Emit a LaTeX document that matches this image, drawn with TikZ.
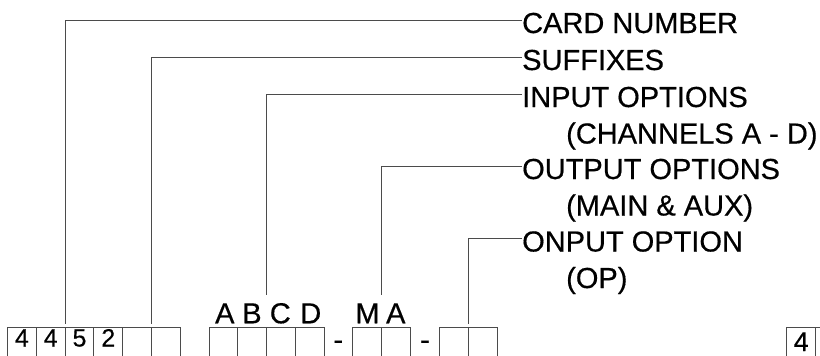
\documentclass[tikz,border=0pt]{standalone}
\usepackage{fontspec}
\setmainfont{Liberation Sans}[FakeBold=0.5]
\definecolor{ln}{RGB}{75,75,75}
\begin{document}
\begin{tikzpicture}[x=1pt,y=-1pt,
  lbl/.style={anchor=west,inner sep=0pt,text height=26pt,text depth=0pt,font=\fontsize{29}{31}\selectfont},
  ltr/.style={anchor=base,inner sep=0pt,font=\fontsize{29}{31}\selectfont},
  dig/.style={anchor=base,inner sep=0pt,font=\fontsize{25}{27}\selectfont},
  ldr/.style={draw=ln,line width=1pt},
  cellbox/.style={draw=ln,line width=0.9pt,anchor=north west,minimum width=28.8pt,minimum height=40pt,inner sep=0pt,outer sep=0pt}]
\useasboundingbox (0,0) rectangle (820,356);
\clip (0,0) rectangle (820,356);
% cells group 1
\node[cellbox] (a1) at (7.5,327.5) {};
\node[cellbox] (a2) at (36.3,327.5) {};
\node[cellbox] (a3) at (65.1,327.5) {};
\node[cellbox] (a4) at (93.9,327.5) {};
\node[cellbox] (a5) at (122.7,327.5) {};
\node[cellbox] (a6) at (151.5,327.5) {};
% group 2
\node[cellbox] (b1) at (209,327.5) {};
\node[cellbox] (b2) at (237.8,327.5) {};
\node[cellbox] (b3) at (266.6,327.5) {};
\node[cellbox] (b4) at (295.4,327.5) {};
% group 3
\node[cellbox] (m1) at (352.8,327.5) {};
\node[cellbox] (m2) at (381.6,327.5) {};
% group 4
\node[cellbox] (o1) at (439.6,327.5) {};
\node[cellbox] (o2) at (468.4,327.5) {};
% right partial
\node[cellbox] (r1) at (786.8,327.5) {};
\node[cellbox] (r2) at (815.6,327.5) {};
% digits
\node[dig] (d1) at ([yshift=-19pt]a1.north) {4};
\node[dig] (d2) at ([yshift=-19pt]a2.north) {4};
\node[dig] (d3) at ([yshift=-19pt]a3.north) {5};
\node[dig] (d4) at ([yshift=-19pt]a4.north) {2};
\node[dig,font=\fontsize{27}{29}\selectfont] (d5) at ([yshift=-23.5pt]r1.north) {4};
% letters above cells
\node[ltr] (lA) at (224.8,323.3) {A};
\node[ltr] (lB) at (252,323.3) {B};
\node[ltr] (lC) at (280.3,323.3) {C};
\node[ltr] (lD) at (310.8,323.3) {D};
\node[ltr] (lM) at (367.5,323.3) {M};
\node[ltr] (lA2) at (395.8,323.3) {A};
% dashes
\node[ltr] (dash1) at (338.3,349.5) {-};
\node[ltr] (dash2) at (425,349.5) {-};
% labels
\node[lbl] (card) at (522,20) {CARD NUMBER};
\node[lbl] (suff) at (522,57) {SUFFIXES};
\node[lbl] (inp) at (522,94) {INPUT OPTIONS};
\node[lbl] (chan) at (566,130.5) {(CHANNELS A - D)};
\node[lbl] (outp) at (522,166) {OUTPUT OPTIONS};
\node[lbl] (maux) at (566,202.5) {(MAIN \& AUX)};
\node[lbl] (onp) at (522,238.5) {ONPUT OPTION};
\node[lbl] (op) at (566,275) {(OP)};
% leader ends
\coordinate (e1) at ([yshift=4pt]a3.north west);
\coordinate (e2) at ([yshift=4pt]a6.north west);
\coordinate (e3) at ([yshift=32.5pt]b3.north west);
\coordinate (e4) at ([yshift=32.5pt]m2.north west);
\coordinate (e5) at ([yshift=4pt]o2.north west);
\draw[ldr] (card.west) -| (e1);
\draw[ldr] (suff.west) -| (e2);
\draw[ldr] (inp.west) -| (e3);
\draw[ldr] (outp.west) -| (e4);
\draw[ldr] (onp.west) -| (e5);
\end{tikzpicture}
\end{document}
